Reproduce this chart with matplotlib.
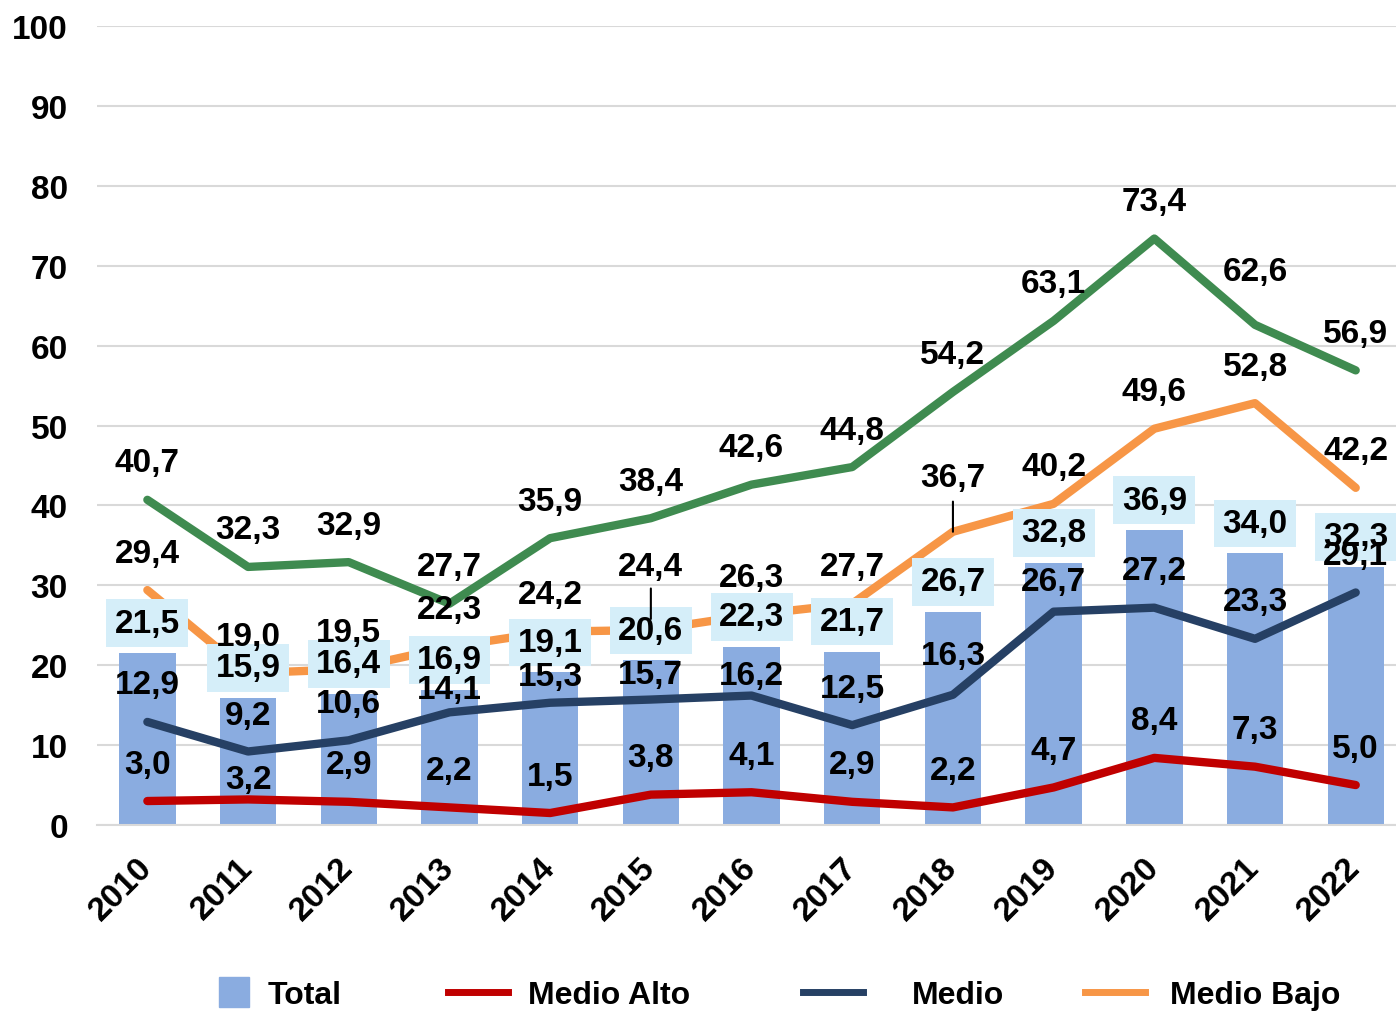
import numpy as np
import matplotlib.pyplot as plt
import matplotlib.transforms as mtransforms
from matplotlib.lines import Line2D

plt.rcParams['font.family'] = ['Liberation Sans', 'DejaVu Sans']
plt.rcParams['font.weight'] = 'bold'

years = ['2010', '2011', '2012', '2013', '2014', '2015', '2016',
         '2017', '2018', '2019', '2020', '2021', '2022']
total = [21.5, 15.9, 16.4, 16.9, 19.1, 20.6, 22.3, 21.7, 26.7, 32.8, 36.9, 34.0, 32.3]
medio_alto = [3.0, 3.2, 2.9, 2.2, 1.5, 3.8, 4.1, 2.9, 2.2, 4.7, 8.4, 7.3, 5.0]
medio = [12.9, 9.2, 10.6, 14.1, 15.3, 15.7, 16.2, 12.5, 16.3, 26.7, 27.2, 23.3, 29.1]
medio_bajo = [29.4, 19.0, 19.5, 22.3, 24.2, 24.4, 26.3, 27.7, 36.7, 40.2, 49.6, 52.8, 42.2]
bajo = [40.7, 32.3, 32.9, 27.7, 35.9, 38.4, 42.6, 44.8, 54.2, 63.1, 73.4, 62.6, 56.9]

c_bar = '#8AACE0'
c_box = '#D5EEF9'
c_alto = '#C00000'
c_medio = '#264064'
c_mbajo = '#F79646'
c_bajo = '#3F8B50'

fig = plt.figure(figsize=(13.96, 10.12), dpi=100)
ax = fig.add_axes([0.0695, 0.1838, 0.9305, 0.7895])

x = np.arange(len(years))
ax.bar(x, total, width=0.56, color=c_bar, zorder=2)

lw = 6
ax.plot(x, bajo, color=c_bajo, lw=lw, zorder=3, solid_capstyle='round')
ax.plot(x, medio_bajo, color=c_mbajo, lw=lw, zorder=3, solid_capstyle='round')
ax.plot(x, medio, color=c_medio, lw=lw, zorder=3, solid_capstyle='round')
ax.plot(x, medio_alto, color=c_alto, lw=lw, zorder=3, solid_capstyle='round')

def fmt(v):
    return f'{v:.1f}'.replace('.', ',')

fs = 24
# total labels with boxes
for i, v in enumerate(total):
    ax.annotate(fmt(v), (i, v), xytext=(0, 30), textcoords='offset pixels',
                ha='center', va='center', fontsize=fs, fontweight='bold', zorder=5,
                bbox=dict(boxstyle='square,pad=0.25', fc=c_box, ec='none'))

# label offsets in pixels above each point (a few moved by hand in the original)
off_bajo = [37] * 13
off_bajo[11] = 53
off_mbajo = [37] * 13
off_mbajo[5] = 64
off_mbajo[8] = 54
off_medio = [37, 36, 37, 23, 26, 25, 20, 37, 39, 30, 37, 37, 37]
off_alto = [37] * 13
off_alto[1] = 20

for series, offs in [(bajo, off_bajo), (medio_bajo, off_mbajo),
                     (medio, off_medio), (medio_alto, off_alto)]:
    for i, v in enumerate(series):
        arrow = None
        if series is medio_bajo and i == 5:
            arrow = dict(arrowstyle='-', color='black', lw=1.5, shrinkA=3, shrinkB=8)
        if series is medio_bajo and i == 8:
            arrow = dict(arrowstyle='-', color='black', lw=1.5, shrinkA=4, shrinkB=0)
        ax.annotate(fmt(v), (i, v), xytext=(0, offs[i]), textcoords='offset pixels',
                    ha='center', va='center', fontsize=fs, fontweight='bold', zorder=6,
                    arrowprops=arrow)

ax.set_ylim(0, 100)
ax.set_yticks(np.arange(0, 101, 10))
ax.set_xlim(-0.5, 12.4)
ax.set_xticks(x)
ax.set_xticklabels(years, rotation=45, ha='right', rotation_mode='anchor')
ax.tick_params(axis='both', length=0, labelsize=24)
ax.tick_params(axis='y', pad=21)
ax.tick_params(axis='x', pad=19)
shift = mtransforms.ScaledTranslation(-8 / 72.0, 0, fig.dpi_scale_trans)
for lab in ax.get_xticklabels():
    lab.set_transform(lab.get_transform() + shift)
ax.grid(axis='y', color='#D9D9D9', lw=1.5, zorder=0)
ax.set_axisbelow(True)
for s in ['top', 'right', 'left']:
    ax.spines[s].set_visible(False)
ax.spines['bottom'].set_color('#D9D9D9')
ax.spines['bottom'].set_linewidth(1.5)

# legend, one entry at a time like the original spacing
W = 1396.0
ly = 0.016
lfs = 23
em = lfs * 100 / 72.0
entries = [
    (Line2D([], [], marker='s', linestyle='none', markersize=21, color=c_bar),
     'Total', 220, 28, 20),
    (Line2D([], [], color=c_alto, lw=5), 'Medio Alto', 448, 60, 20),
    (Line2D([], [], color=c_medio, lw=5), 'Medio', 803, 60, 49),
    (Line2D([], [], color=c_mbajo, lw=5), 'Medio Bajo', 1085, 60, 25),
]
for h, lab, x0, hl, gap in entries:
    leg = fig.legend([h], [lab], loc='center left', bbox_to_anchor=(x0 / W, ly),
                     frameon=False, borderpad=0, borderaxespad=0,
                     handlelength=hl / em, handletextpad=gap / em,
                     prop={'weight': 'bold', 'size': lfs})

fig.savefig('out.png', dpi=100)
